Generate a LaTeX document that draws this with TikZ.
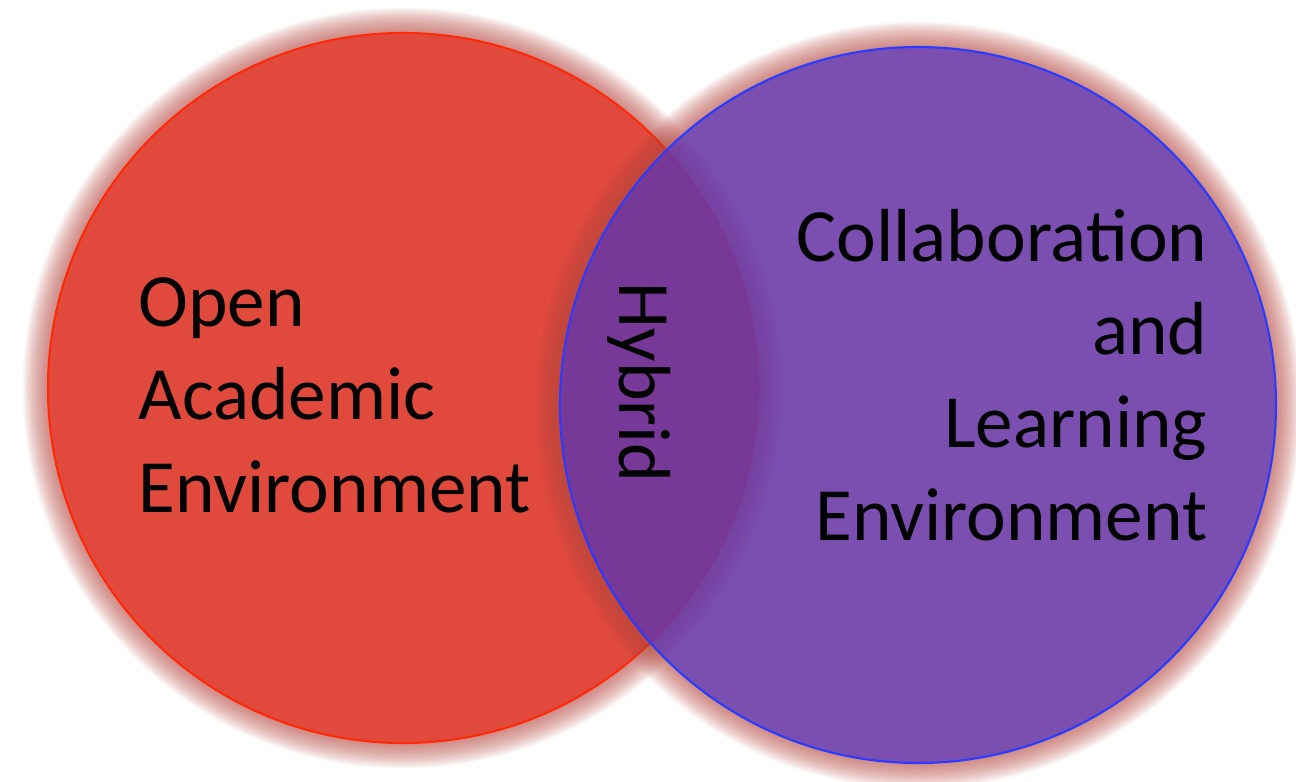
\documentclass[tikz,border=0pt]{standalone}
\usepackage{fontspec}
\setmainfont{Carlito}
\definecolor{rougefond}{RGB}{224,74,60}
\definecolor{rougebord}{RGB}{255,42,10}
\definecolor{violetfond}{RGB}{105,55,165}
\definecolor{bleubord}{RGB}{43,59,255}
\definecolor{halo}{RGB}{180,70,62}
\tikzset{texte/.style={inner sep=0pt, font=\fontsize{21.4}{26.4}\selectfont}}
\begin{document}
\begin{tikzpicture}
	\useasboundingbox (0,0) rectangle (12.96,7.81);
	% halo du cercle rouge
	\foreach \k in {1,...,14}
		\fill[halo, opacity=0.065, even odd rule] (4.03,3.93) circle (3.55) circle ({3.55+0.018*\k});
	% le cercle rouge
	\filldraw[fill=rougefond, draw=rougebord, line width=0.6pt] (4.03,3.93) circle (3.55);
	% halo du cercle violet
	\foreach \k in {1,...,14}
		\fill[halo, opacity=0.065, even odd rule] (9.18,3.76) circle (3.58) circle ({3.58+0.018*\k});
	% le cercle violet
	\filldraw[fill=violetfond, fill opacity=0.88, draw=bleubord, line width=0.6pt] (9.18,3.76) circle (3.58);
	% les textes
	\node[texte, align=left, anchor=base west] (ouvert) at (1.38,2.69) {Open\\Academic\\Environment};
	\node[texte, align=right, anchor=base east] (collab) at (12.08,2.41) {Collaboration\\and\\Learning\\Environment};
	\node[texte, rotate=-90, anchor=base west, font=\fontsize{21}{26}\selectfont] (hybride) at (6.19,4.99) {Hybrid};
\end{tikzpicture}
\end{document}
